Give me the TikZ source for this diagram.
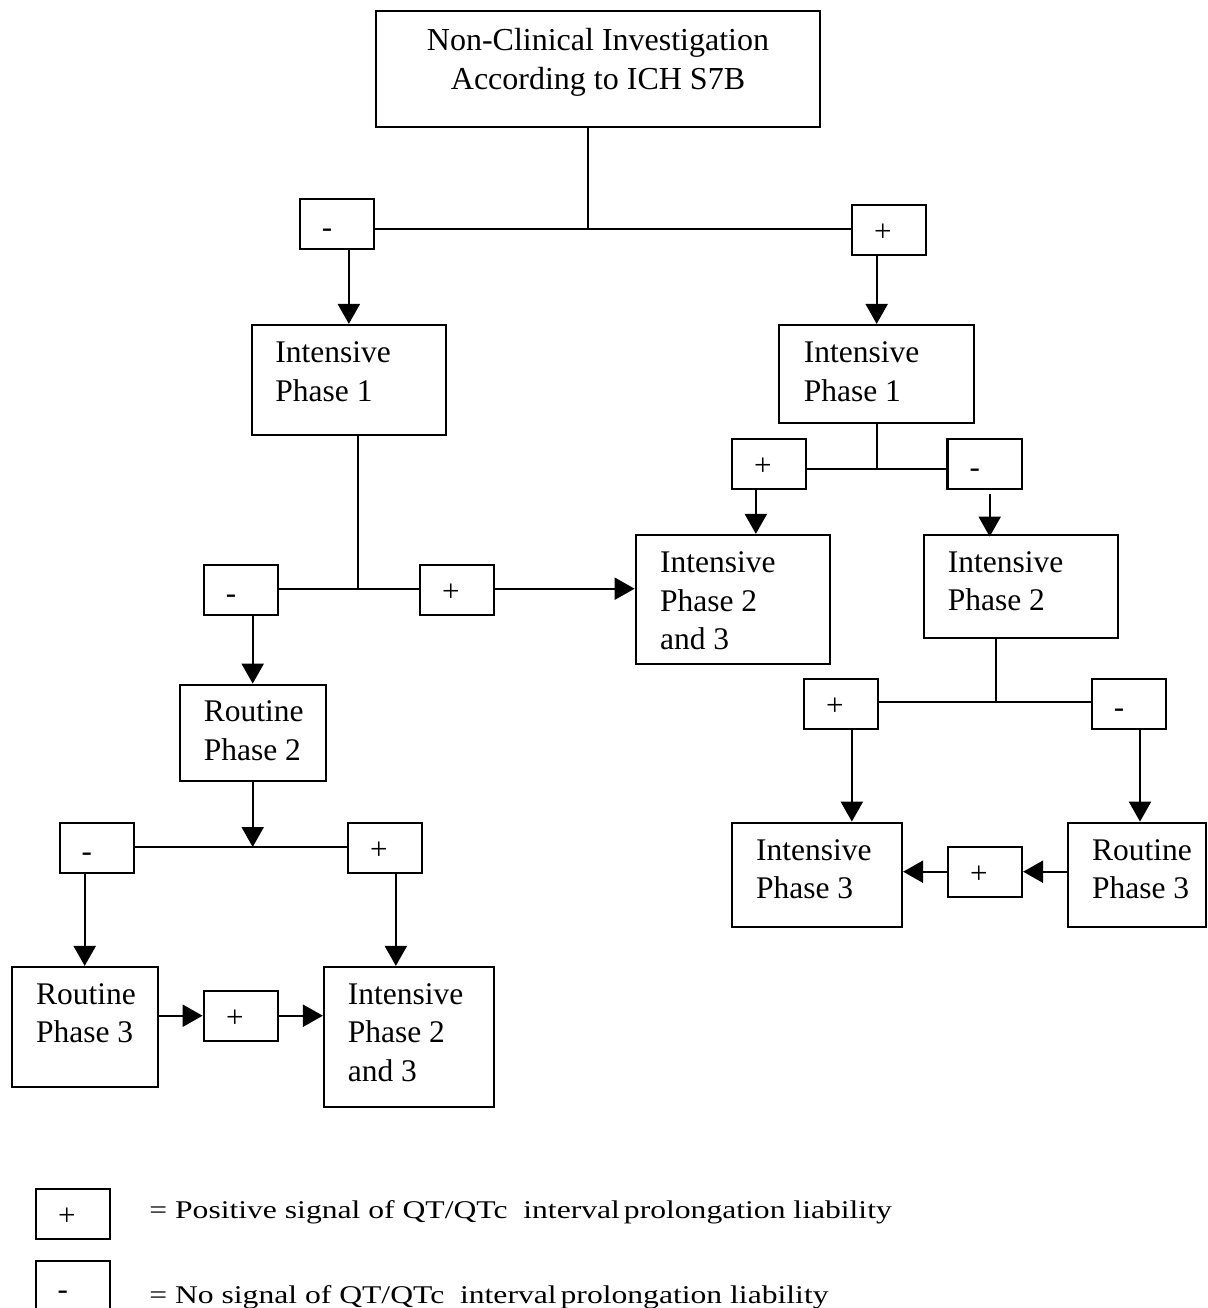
\documentclass[tikz,border=0pt]{standalone}
\usepackage{fontspec}
\setmainfont{Liberation Serif}
\newfontfamily\legfont[FakeStretch=1.24]{Liberation Serif}
\usetikzlibrary{arrows.meta}
\newcommand\twolines[2]{\vtop{\hbox{#1}\hbox{#2}}}
\newcommand\threelines[3]{\vtop{\hbox{#1}\hbox{#2}\hbox{#3}}}
\newcommand\ctrline[1]{\hbox to 0pt{\hss #1\hss}}
\begin{document}
\begin{tikzpicture}[x=1pt,y=-1pt,line width=2.2pt,
  frame/.style 2 args={draw,rectangle,inner sep=0pt,minimum width=#1,minimum height=#2},
  sign/.style={draw,rectangle,inner sep=0pt,minimum width=74.3pt,minimum height=50pt,
    text height=23pt,text depth=0pt,font=\fontsize{31}{38.5}\selectfont},
  msign/.style={sign,text height=27pt},
  txt/.style={inner sep=0pt,anchor=base west,font=\fontsize{31.5}{38.5}\selectfont},
  ttxt/.style={inner sep=0pt,anchor=base,font=\fontsize{32}{38.5}\selectfont},
  legtxt/.style={inner sep=0pt,anchor=base west,font=\legfont\fontsize{25.5}{30}\selectfont},
  arr/.style={-{Triangle[width=22pt,length=20pt]}}]
\useasboundingbox (0,0) rectangle (1207,1308);

% ---------- boxes ----------
\node[frame={444}{115.7}] (top) at (598,68.85) {};
\node[ttxt] (toptxt) at (598,51) {\vtop{\ctrline{Non-Clinical Investigation}\ctrline{According to ICH S7B}}};

\node[msign] (L1) at (337,223.85) {-\kern20pt};
\node[sign] (R1) at (888.85,229.7) {+\kern12pt};

\node[frame={194.3}{110}] (IP1L) at (348.85,380) {};
\node[txt] (IP1Lt) at (274.3,362.7) {\twolines{Intensive}{Phase 1}};

\node[frame={194.7}{97.7}] (IP1R) at (876.65,373.85) {};
\node[txt] (IP1Rt) at (802.7,362.7) {\twolines{Intensive}{Phase 1}};

\node[sign] (R2a) at (768.85,463.7) {+\kern12pt};
\node[msign] (R2b) at (984.7,463.7) {-\kern20pt};

\node[frame={194.3}{129.3}] (IP23M) at (732.85,599.65) {};
\node[txt] (IP23Mt) at (659,572.7) {\threelines{Intensive}{Phase 2}{and 3}};

\node[frame={194.3}{103.6}] (IP2R) at (1020.85,586.5) {};
\node[txt] (IP2Rt) at (946.7,572.3) {\twolines{Intensive}{Phase 2}};

\node[msign] (L2a) at (241,590) {-\kern20pt};
\node[sign] (L2b) at (456.85,590) {+\kern12pt};

\node[frame={146}{96}] (RP2) at (252.7,732.7) {};
\node[txt] (RP2t) at (202.7,721.7) {\twolines{Routine}{Phase 2}};

\node[msign] (L3a) at (96.85,847.7) {-\kern20pt};
\node[sign] (L3b) at (384.85,847.7) {+\kern12pt};

\node[frame={146}{119.7}] (RP3L) at (84.7,1026.85) {};
\node[txt] (RP3Lt) at (35,1004) {\twolines{Routine}{Phase 3}};

\node[sign] (L4) at (240.85,1015.7) {+\kern12pt};

\node[frame={169.7}{139.7}] (IP23L) at (408.85,1036.85) {};
\node[txt] (IP23Lt) at (346.7,1004) {\threelines{Intensive}{Phase 2}{and 3}};

\node[sign] (R3a) at (840.85,703.85) {+\kern12pt};
\node[msign] (R3b) at (1129,703.85) {-\kern20pt};

\node[frame={170.3}{104}] (IP3) at (816.85,874.7) {};
\node[txt] (IP3t) at (755,860) {\twolines{Intensive}{Phase 3}};

\node[sign] (R4) at (984.85,871.7) {+\kern12pt};

\node[frame={138}{104}] (RP3R) at (1136.7,874.7) {};
\node[txt] (RP3Rt) at (1091,860) {\twolines{Routine}{Phase 3}};

% ---------- junctions ----------
\coordinate (J1) at (587.7,228.7);
\coordinate (J2) at (876.65,468.7);
\coordinate (J3) at (358,588.7);
\coordinate (J4) at (252.7,847);
\coordinate (J5) at (996,702.3);

% ---------- connectors ----------
\draw (top.south -| J1) -- (J1);
\draw (L1.east |- J1) -- (R1.west |- J1);
\draw[arr] (L1.south -| IP1L.north) -- (IP1L.north);
\draw[arr] (R1.south -| IP1R.north) -- (IP1R.north);

\draw (IP1R.south) -- (J2);
\draw (R2a.east |- J2) -- (R2b.west |- J2);
\draw[arr] ([xshift=-13pt]R2a.south) -- ([xshift=-13pt]R2a.south |- IP23M.north);
\draw[arr] ([xshift=5pt,yshift=-4pt]R2b.south) -- ([xshift=5pt,yshift=-3pt]R2b.south |- IP2R.north);

\draw (IP1L.south -| J3) -- (J3);
\draw (L2a.east |- J3) -- (L2b.west |- J3);
\draw[arr] (L2b.east |- J3) -- (IP23M.west |- J3);
\draw[arr] (L2a.south -| RP2.north) -- (RP2.north);

\draw[arr] (RP2.south) -- (J4);
\draw (L3a.east |- J4) -- (L3b.west |- J4);
\draw[arr] (L3a.south -| RP3L.north) -- (RP3L.north);
\draw[arr] ([xshift=11pt]L3b.south) -- ([xshift=11pt]L3b.south |- IP23L.north);
\draw[arr] (RP3L.east |- L4.west) -- (L4.west);
\draw[arr] (L4.east) -- (L4.east -| IP23L.west);

\draw (IP2R.south -| J5) -- (J5);
\draw (R3a.east |- J5) -- (R3b.west |- J5);
\draw[arr] ([xshift=11pt]R3a.south) -- ([xshift=11pt]R3a.south |- IP3.north);
\draw[arr] ([xshift=11pt]R3b.south) -- ([xshift=11pt]R3b.south |- RP3R.north);
\draw[arr] (RP3R.west |- R4.east) -- (R4.east);
\draw[arr] (R4.west) -- (R4.west -| IP3.east);

% ---------- legend ----------
\node[sign] (LP) at (72.85,1213.7) {+\kern12pt};
\node[msign] (LM) at (72.85,1286) {-\kern20pt};
\node[legtxt] (leg1) at (148.3,1218) {= Positive signal of QT/QTc\ \ interval\hspace{4pt}prolongation liability};
\node[legtxt] (leg2) at (148.3,1303) {= No signal of QT/QTc\ \ interval\hspace{4pt}prolongation liability};
\end{tikzpicture}
\end{document}
